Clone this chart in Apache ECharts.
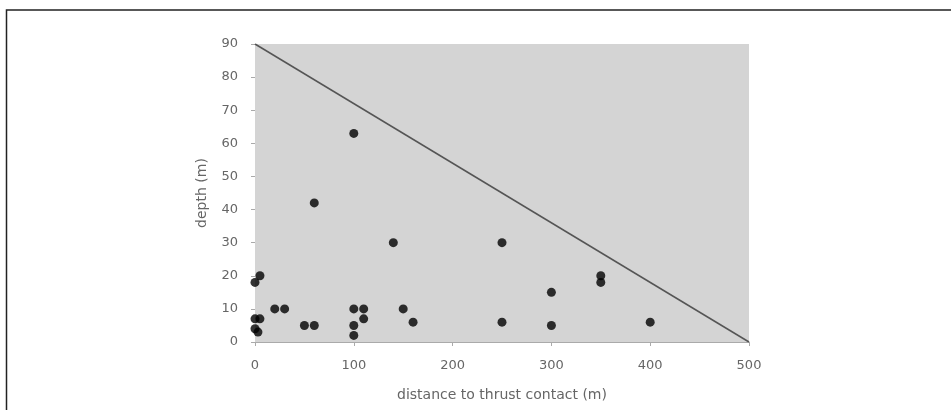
<!DOCTYPE html>
<html>
<head>
<meta charset="utf-8">
<script src="https://cdn.jsdelivr.net/npm/echarts@6/dist/echarts.min.js"></script>
<style>
  html, body { margin: 0; padding: 0; background: #fff; }
  #main { width: 951px; height: 410px; }
</style>
</head>
<body>
<div id="main"></div>
<script>
// sample points: distance to thrust contact (m), depth (m)
var distances = [0, 5, 0, 5, 0, 3, 20, 30, 50, 60, 60, 100, 100, 110, 110, 100, 100, 140, 150, 160, 250, 250, 300, 300, 350, 350, 400];
var depths    = [18, 20, 7, 7, 4, 3, 10, 10, 5, 5, 42, 63, 10, 10, 7, 5, 2, 30, 10, 6, 30, 6, 15, 5, 20, 18, 6];
// limit line
var limitX = [0, 500];
var limitY = [90, 0];

var chart = echarts.init(document.getElementById('main'));

var points = distances.map(function (d, i) { return [d, depths[i]]; });
var limit = limitX.map(function (d, i) { return [d, limitY[i]]; });

var option = {
	animation: false,
	backgroundColor: '#fff',
	textStyle: { fontFamily: 'DejaVu Sans' },
	grid: {
		left: 255,
		right: 202,
		top: 44,
		bottom: 68,
		show: true,
		backgroundColor: '#d4d4d4',
		borderWidth: 0
	},
	graphic: [{
		type: 'rect',
		shape: { x: 6.5, y: 10, width: 1000, height: 500 },
		style: { fill: 'none', stroke: '#222', lineWidth: 1.5 },
		silent: true
	}],
	xAxis: {
		type: 'value',
		min: 0,
		max: 500,
		interval: 100,
		name: 'distance to thrust contact (m)',
		nameLocation: 'middle',
		nameGap: 46,
		nameTextStyle: { color: '#666', fontSize: 14 },
		axisLine: { show: true, lineStyle: { color: '#aaa', width: 1 } },
		axisTick: { show: true, length: 4, lineStyle: { color: '#aaa' } },
		axisLabel: { color: '#666', fontSize: 13, margin: 17 },
		splitLine: { show: false }
	},
	yAxis: {
		type: 'value',
		min: 0,
		max: 90,
		interval: 10,
		name: 'depth (m)',
		nameLocation: 'middle',
		nameGap: 46,
		nameTextStyle: { color: '#666', fontSize: 14 },
		axisLine: { show: false },
		axisTick: { show: true, length: 4, lineStyle: { color: '#aaa' } },
		axisLabel: { color: '#666', fontSize: 13, margin: 17 },
		splitLine: { show: false }
	},
	series: [{
		name: 'limit',
		type: 'line',
		data: limit,
		symbol: 'none',
		lineStyle: { color: '#555', width: 1.5 },
		silent: true
	}, {
		name: 'samples',
		type: 'scatter',
		data: points,
		symbol: 'circle',
		symbolSize: 9,
		itemStyle: { color: '#000' }
	}]
};
chart.setOption(option);
</script>
</body>
</html>
